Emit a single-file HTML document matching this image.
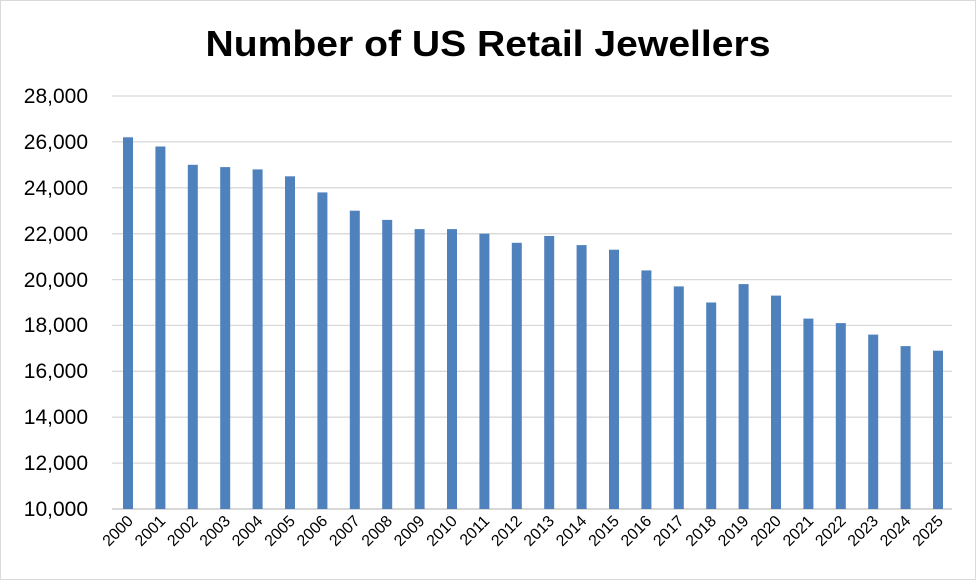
<!DOCTYPE html>
<html><head><style>body{margin:0;background:#fff}</style></head><body>
<svg width="977" height="581" xmlns="http://www.w3.org/2000/svg" font-family="Liberation Sans, sans-serif">
<rect x="0.5" y="0.5" width="975" height="579" fill="#fff" stroke="#d9d9d9"/>
<text x="488" y="56" text-anchor="middle" font-size="36" font-weight="bold" textLength="565" lengthAdjust="spacingAndGlyphs">Number of US Retail Jewellers</text>
<g stroke="#d9d9d9" stroke-width="1.3">
<line x1="112" x2="952" y1="96" y2="96"/>
<line x1="112" x2="952" y1="141.9" y2="141.9"/>
<line x1="112" x2="952" y1="187.8" y2="187.8"/>
<line x1="112" x2="952" y1="233.7" y2="233.7"/>
<line x1="112" x2="952" y1="279.6" y2="279.6"/>
<line x1="112" x2="952" y1="325.4" y2="325.4"/>
<line x1="112" x2="952" y1="371.3" y2="371.3"/>
<line x1="112" x2="952" y1="417.2" y2="417.2"/>
<line x1="112" x2="952" y1="463.1" y2="463.1"/>
<line x1="112" x2="952" y1="509" y2="509" stroke="#bfbfbf"/>
</g>
<g font-size="21" text-anchor="end">
<text x="88" y="103">28,000</text>
<text x="88" y="149">26,000</text>
<text x="88" y="195">24,000</text>
<text x="88" y="241">22,000</text>
<text x="88" y="287">20,000</text>
<text x="88" y="332">18,000</text>
<text x="88" y="378">16,000</text>
<text x="88" y="424">14,000</text>
<text x="88" y="470">12,000</text>
<text x="88" y="516">10,000</text>
</g>
<g fill="#4f81bd">
<rect x="123" y="137.3" width="10" height="371.7"/>
<rect x="155.4" y="146.5" width="10" height="362.5"/>
<rect x="187.8" y="164.8" width="10" height="344.2"/>
<rect x="220.2" y="167.1" width="10" height="341.9"/>
<rect x="252.6" y="169.4" width="10" height="339.6"/>
<rect x="285" y="176.3" width="10" height="332.7"/>
<rect x="317.4" y="192.4" width="10" height="316.6"/>
<rect x="349.8" y="210.7" width="10" height="298.3"/>
<rect x="382.2" y="219.9" width="10" height="289.1"/>
<rect x="414.6" y="229.1" width="10" height="279.9"/>
<rect x="447" y="229.1" width="10" height="279.9"/>
<rect x="479.4" y="233.7" width="10" height="275.3"/>
<rect x="511.8" y="242.8" width="10" height="266.2"/>
<rect x="544.2" y="236" width="10" height="273"/>
<rect x="576.6" y="245.1" width="10" height="263.9"/>
<rect x="609" y="249.7" width="10" height="259.3"/>
<rect x="641.4" y="270.4" width="10" height="238.6"/>
<rect x="673.8" y="286.4" width="10" height="222.6"/>
<rect x="706.2" y="302.5" width="10" height="206.5"/>
<rect x="738.6" y="284.1" width="10" height="224.9"/>
<rect x="771" y="295.6" width="10" height="213.4"/>
<rect x="803.4" y="318.6" width="10" height="190.4"/>
<rect x="835.8" y="323.1" width="10" height="185.9"/>
<rect x="868.2" y="334.6" width="10" height="174.4"/>
<rect x="900.6" y="346.1" width="10" height="162.9"/>
<rect x="933" y="350.7" width="10" height="158.3"/>
</g>
<g font-size="16" text-anchor="end">
<text transform="translate(134,522) rotate(-45)">2000</text>
<text transform="translate(166.4,522) rotate(-45)">2001</text>
<text transform="translate(198.8,522) rotate(-45)">2002</text>
<text transform="translate(231.2,522) rotate(-45)">2003</text>
<text transform="translate(263.6,522) rotate(-45)">2004</text>
<text transform="translate(296,522) rotate(-45)">2005</text>
<text transform="translate(328.4,522) rotate(-45)">2006</text>
<text transform="translate(360.8,522) rotate(-45)">2007</text>
<text transform="translate(393.2,522) rotate(-45)">2008</text>
<text transform="translate(425.6,522) rotate(-45)">2009</text>
<text transform="translate(458,522) rotate(-45)">2010</text>
<text transform="translate(490.4,522) rotate(-45)">2011</text>
<text transform="translate(522.8,522) rotate(-45)">2012</text>
<text transform="translate(555.2,522) rotate(-45)">2013</text>
<text transform="translate(587.6,522) rotate(-45)">2014</text>
<text transform="translate(620,522) rotate(-45)">2015</text>
<text transform="translate(652.4,522) rotate(-45)">2016</text>
<text transform="translate(684.8,522) rotate(-45)">2017</text>
<text transform="translate(717.2,522) rotate(-45)">2018</text>
<text transform="translate(749.6,522) rotate(-45)">2019</text>
<text transform="translate(782,522) rotate(-45)">2020</text>
<text transform="translate(814.4,522) rotate(-45)">2021</text>
<text transform="translate(846.8,522) rotate(-45)">2022</text>
<text transform="translate(879.2,522) rotate(-45)">2023</text>
<text transform="translate(911.6,522) rotate(-45)">2024</text>
<text transform="translate(944,522) rotate(-45)">2025</text>
</g>
</svg>
</body></html>
